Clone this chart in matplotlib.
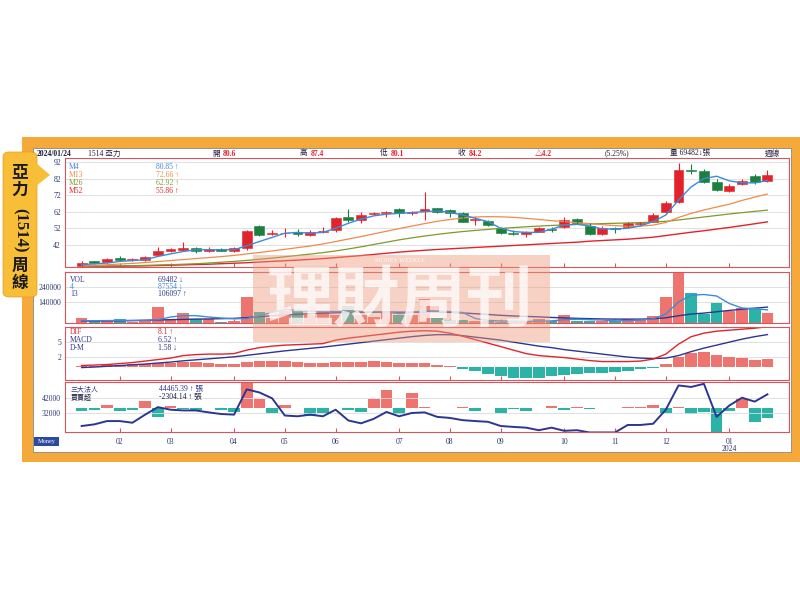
import matplotlib
matplotlib.use("Agg")
import matplotlib.pyplot as plt
import numpy as np
from matplotlib.patches import Rectangle, Polygon, FancyBboxPatch

plt.rcParams["font.family"] = ["Liberation Serif", "Noto Sans CJK TC", "DejaVu Sans"]

# ---- weekly candles (2023/01 .. 2024/01) ----
opens  = [29.4, 32.0, 31.8, 34.0, 32.6, 33.0, 35.6, 38.2, 39.0, 39.8, 38.4, 39.6, 38.2, 40.0, 53.4,
          48.6, 49.0, 50.0, 48.2, 49.6, 51.0, 59.0, 57.0, 60.6, 61.0, 63.4, 61.0, 62.4, 64.0, 63.0,
          61.0, 57.0, 56.4, 52.0, 49.4, 48.6, 50.0, 51.6, 53.0, 57.4, 53.4, 48.6, 52.0, 53.0, 54.8,
          56.0, 62.0, 68.0, 87.4, 86.4, 80.0, 74.6, 78.6, 83.4, 80.6]
highs  = [32.0, 32.5, 34.0, 35.0, 34.0, 35.5, 40.6, 40.0, 44.0, 40.5, 40.5, 40.0, 40.5, 51.0, 54.0,
          51.0, 52.0, 51.5, 51.0, 53.0, 58.5, 63.4, 62.0, 62.0, 62.5, 64.5, 62.5, 74.0, 64.5, 63.5,
          62.0, 59.0, 57.0, 53.0, 51.0, 50.5, 53.0, 53.0, 58.5, 58.0, 55.0, 53.5, 53.0, 56.0, 56.0,
          61.0, 68.4, 91.4, 91.0, 87.5, 81.5, 79.0, 82.0, 85.0, 87.4]
lows   = [28.6, 30.5, 31.0, 32.0, 32.0, 32.5, 35.0, 37.5, 38.5, 37.0, 37.5, 38.0, 37.8, 39.0, 47.5,
          48.0, 47.0, 47.5, 47.5, 49.0, 50.0, 56.0, 55.0, 60.0, 59.0, 59.0, 60.0, 57.0, 61.5, 59.0,
          55.5, 54.0, 53.5, 48.5, 48.0, 46.5, 49.5, 50.0, 52.0, 54.5, 48.0, 48.0, 49.0, 52.5, 54.0,
          55.5, 61.0, 67.0, 85.0, 79.5, 74.5, 74.0, 78.0, 79.0, 80.1]
closes = [31.0, 31.0, 33.4, 32.6, 33.4, 34.6, 38.0, 39.4, 40.0, 38.2, 39.6, 38.4, 40.0, 50.6, 48.0,
          49.4, 49.4, 48.6, 49.6, 50.4, 58.0, 57.0, 60.0, 61.4, 61.6, 61.0, 62.0, 63.4, 62.0, 61.0,
          56.0, 57.5, 54.0, 49.0, 48.6, 50.0, 52.0, 51.2, 57.0, 55.4, 48.6, 52.4, 51.4, 55.0, 55.2,
          60.0, 67.0, 87.0, 86.6, 80.0, 75.0, 77.4, 80.4, 80.0, 84.2]

m4  = [30.0, 30.5, 31.0, 32.0, 32.5, 33.0, 35.0, 36.5, 38.0, 39.0, 39.0, 39.0, 39.0, 41.5, 44.0,
       46.5, 49.0, 49.5, 49.0, 49.5, 52.0, 55.0, 57.5, 59.5, 60.5, 61.0, 61.5, 62.0, 62.5, 61.5,
       60.0, 58.0, 56.0, 52.0, 50.0, 49.5, 49.5, 51.4, 54.0, 54.4, 53.4, 51.6, 51.6, 52.0, 53.4,
       56.0, 60.0, 69.0, 77.0, 82.0, 83.4, 80.6, 79.4, 79.4, 80.85]
m13 = [29.3, 29.6, 30.0, 30.4, 30.8, 31.3, 31.9, 32.5, 33.1, 33.7, 34.3, 34.9, 35.6, 36.5, 37.4,
       38.3, 39.3, 40.3, 41.3, 42.5, 44.0, 45.5, 47.0, 48.6, 50.2, 51.8, 53.3, 54.8, 56.2, 57.3,
       58.2, 58.8, 59.0, 58.9, 58.6, 58.0, 57.3, 56.6, 56.0, 55.4, 54.8, 54.2, 53.6, 53.2, 53.3,
       53.9, 55.5, 58.5, 61.0, 63.0, 64.8, 66.5, 68.8, 70.8, 72.66]
m26 = [29.0, 29.1, 29.2, 29.3, 29.4, 29.6, 29.8, 30.0, 30.3, 30.6, 31.0, 31.5, 32.0, 32.6, 33.3,
       34.0, 34.8, 35.6, 36.4, 37.3, 38.3, 39.5, 40.8, 42.2, 43.6, 45.0, 46.2, 47.3, 48.3, 49.2,
       50.0, 50.7, 51.3, 51.9, 52.4, 52.9, 53.3, 53.7, 54.0, 54.3, 54.6, 54.8, 55.0, 55.2, 55.4,
       55.7, 56.2, 57.0, 57.9, 58.8, 59.7, 60.6, 61.4, 62.2, 62.92]
m52 = [28.8, 28.9, 29.0, 29.1, 29.2, 29.3, 29.5, 29.7, 29.9, 30.1, 30.3, 30.6, 30.9, 31.2, 31.6,
       32.0, 32.4, 32.8, 33.2, 33.7, 34.3, 34.9, 35.5, 36.2, 36.9, 37.6, 38.2, 38.7, 39.2, 39.6,
       40.0, 40.4, 40.8, 41.2, 41.6, 42.0, 42.4, 42.8, 43.2, 43.6, 44.2, 44.6, 45.0, 45.4, 46.0,
       46.6, 47.6, 48.6, 49.6, 50.5, 51.5, 52.5, 53.6, 54.7, 55.86]

# ---- volume ----
vols = [33000, 15000, 13000, 29000, 9000, 15000, 109000, 27000, 64000, 27000, 27000, 9000, 15000,
        176000, 75000, 31000, 82000, 82000, 53000, 87000, 53000, 115000, 53000, 42000, 64000, 55000,
        53000, 160000, 33000, 20000, 22000, 13000, 11000, 9000, 9000, 7000, 27000, 11000, 53000,
        11000, 11000, 15000, 11000, 27000, 22000, 49000, 171000, 333000, 200000, 60000, 131000,
        82000, 100000, 93000, 69482]
vma4 = [15, 15, 16, 17, 17, 18, 22, 40, 49, 49, 40, 33, 28, 30, 50, 70, 90, 85, 80, 78, 76, 75,
        75, 74, 73, 62, 70, 82, 80, 76, 70, 30, 17, 14, 12, 10, 13, 14, 22, 25, 22, 20, 14, 16, 19,
        28, 60, 140, 185, 190, 180, 130, 100, 95, 87.554]
vma13 = [13, 13.5, 14, 15, 16, 18, 20, 22, 24, 26, 27, 29, 31, 36, 42, 48, 54, 58, 62, 65, 68, 70,
         71, 72, 73, 72, 72, 73, 72, 71, 67, 62, 57, 51, 47, 44, 41, 37, 34, 31, 29, 27, 26, 26, 26,
         28, 35, 48, 60, 66, 75, 84, 92, 99, 106.097]

# ---- MACD ----
dif  = [0.3, 0.4, 0.5, 0.7, 0.9, 1.2, 1.5, 1.8, 2.3, 2.5, 2.6, 2.6, 2.7, 3.4, 3.9, 4.2, 4.4, 4.5,
        4.6, 4.7, 5.4, 5.8, 6.1, 6.4, 6.7, 7.0, 7.2, 7.3, 7.2, 6.8, 6.2, 5.5, 4.8, 4.1, 3.4, 2.7,
        2.3, 2.1, 1.9, 1.6, 1.3, 1.1, 1.1, 1.1, 1.2, 1.6, 2.6, 4.6, 6.1, 6.8, 7.2, 7.4, 7.6, 7.8, 8.1]
macd = [-0.1, 0.0, 0.15, 0.3, 0.45, 0.6, 0.8, 1.0, 1.25, 1.45, 1.65, 1.85, 2.05, 2.35, 2.65, 2.95,
        3.25, 3.5, 3.75, 4.0, 4.3, 4.6, 4.9, 5.2, 5.5, 5.8, 6.1, 6.35, 6.5, 6.5, 6.3, 6.0, 5.7, 5.4,
        5.0, 4.6, 4.2, 3.9, 3.5, 3.2, 2.9, 2.6, 2.3, 2.0, 1.8, 1.7, 1.8, 2.3, 3.1, 3.8, 4.4, 5.0,
        5.6, 6.1, 6.52]
osc  = [0.3, 0.3, 0.4, 0.5, 0.6, 0.7, 0.8, 0.9, 1.1, 1.0, 0.9, 0.6, 0.6, 1.1, 1.2, 1.2, 1.2, 1.0,
        0.9, 0.9, 1.1, 1.1, 1.1, 1.2, 1.1, 0.9, 0.8, 0.8, 0.5, 0.25, -0.4, -0.8, -1.3, -1.7, -2.1,
        -2.1, -2.1, -1.8, -1.5, -1.3, -1.1, -1.1, -0.9, -0.7, -0.4, -0.1, 0.6, 2.1, 2.9, 3.1, 2.4,
        2.1, 1.9, 1.5, 1.58]

# ---- institutional investors ----
inst_total = [23300, 24400, 26600, 26600, 25500, 30900, 35900, 34200, 33700, 33700, 32400, 31300,
              30900, 47800, 45700, 41800, 30300, 29800, 30900, 29800, 34200, 27000, 25100, 28100,
              32700, 29800, 32000, 32400, 29400, 28700, 27200, 26600, 26100, 23300, 22700, 22200,
              20500, 22200, 20100, 20500, 19000, 19000, 19000, 24000, 24000, 24800, 34200, 50400,
              49400, 51500, 29400, 37000, 42200, 39600, 44465.39]
inst_net = [-570, -300, 800, -600, -500, 1900, -2200, 650, -200, -300, 100, -300, -800, 6400, 2200,
            -1200, 800, 200, -2000, -1200, 100, -300, -1000, 2200, 4500, -1300, 3700, 400, 50, 200,
            400, -600, 200, -1200, -250, -650, 150, 600, -400, 300, -250, 150, 150, 400, 300, 800,
            -1200, 300, -1500, -800, -5900, -650, 2600, -3400, -2304.14]

month_pos = [3, 7, 12, 16, 20, 25, 29, 33, 38, 42, 46, 51]
month_lab = ["02", "03", "04", "05", "06", "07", "08", "09", "10", "11", "12", "01\n2024"]

RED = "#e3232b"
GREEN = "#1b7f3e"
SALMON = "#ee7470"
TEAL = "#2ab3a6"
NAVY = "#2c3690"
LBLUE = "#3d8bd8"
BORDER = "#d9545c"
TXT = "#2a3570"
ORANGE = "#f5a93a"

W, H = 800, 600
fig = plt.figure(figsize=(8, 6), dpi=100)
fig.patch.set_facecolor("white")


def fx(px):
    return px / W


def fy(py):
    return 1 - py / H


def T(px, py, s, **kw):
    kw.setdefault("fontsize", 5.5)
    kw.setdefault("va", "center")
    return fig.text(fx(px), fy(py), s, **kw)


# frame
fig.patches.append(Rectangle((fx(22), fy(462)), fx(778), 325 / H, transform=fig.transFigure,
                             facecolor=ORANGE, edgecolor="none", zorder=-2))
fig.patches.append(Rectangle((fx(33), fy(452)), fx(758), 304 / H, transform=fig.transFigure,
                             facecolor="white", edgecolor="#888888", lw=0.6, zorder=-1))


def make_ax(top, bottom):
    ax = fig.add_axes([fx(64.5), fy(bottom), fx(789 - 64.5), (bottom - top) / H])
    for s in ax.spines.values():
        s.set_color(BORDER)
        s.set_linewidth(0.8)
    ax.set_xlim(-1.35, 55.7)
    ax.set_xticks(month_pos)
    ax.tick_params(axis="x", direction="in", length=3, color=BORDER, labelbottom=False)
    ax.tick_params(axis="y", length=0, labelsize=5.5, labelcolor=TXT, pad=2.5)
    ax.grid(axis="y", color="#dcdcdc", lw=0.6)
    ax.set_axisbelow(True)
    return ax


x = np.arange(len(closes))
o = np.array(opens)
c = np.array(closes)
cols = np.where(c >= o, RED, GREEN)
bcols = np.where(c >= o, SALMON, TEAL)

# price panel
ax_p = make_ax(158, 266.7)
ax_p.set_ylim(28.8, 94.4)
ax_p.set_yticks([42, 52, 62, 72, 82, 92])
ax_p.plot(x, m52, color=RED, lw=1.0)
ax_p.plot(x, m26, color="#7d9a2a", lw=0.9)
ax_p.plot(x, m13, color="#f08a4b", lw=0.9)
ax_p.vlines(x, lows, highs, color=cols, lw=0.8)
ax_p.bar(x, np.maximum(np.abs(c - o), 0.35), bottom=np.minimum(o, c), width=0.78,
         color=cols, edgecolor=cols, lw=0.4)
ax_p.plot(x, m4, color=LBLUE, lw=1.0)

# volume panel
ax_v = make_ax(272.3, 323)
ax_v.set_ylim(0, 338000)
ax_v.set_yticks([140000, 240000])
ax_v.bar(x, vols, width=0.92, color=bcols)
ax_v.plot(x, np.array(vma13) * 1000, color=NAVY, lw=1.0)
ax_v.plot(x, np.array(vma4) * 1000, color=LBLUE, lw=1.0)

# MACD panel
ax_m = make_ax(326.7, 379.5)
ax_m.set_ylim(-2.5, 8.1)
ax_m.set_yticks([2, 5])
oc = np.array(osc)
ax_m.bar(x, oc, width=0.92, color=np.where(oc >= 0, SALMON, TEAL))
ax_m.plot(x, macd, color=NAVY, lw=1.0)
ax_m.plot(x, dif, color=RED, lw=1.0)

# institutional panel
ax_i = make_ax(382.3, 432.3)
ax_i.set_ylim(19100, 52500)
ax_i.set_yticks([32000, 42000])
ax_b = ax_i.twinx()
ax_b.set_ylim(-5950, 6450)
ax_b.set_yticks([])
for s in ax_b.spines.values():
    s.set_visible(False)
nb = np.array(inst_net)
ax_b.bar(x, nb, width=0.92, color=np.where(nb >= 0, SALMON, TEAL))
ax_i.set_zorder(ax_b.get_zorder() + 1)
ax_i.patch.set_visible(False)
ax_i.plot(x, inst_total, color=NAVY, lw=1.4)
ax_i.set_xticks(month_pos)
ax_i.set_xticklabels(month_lab)
ax_i.tick_params(axis="x", labelbottom=True, labelsize=5.5, labelcolor=TXT, pad=4)
for lab in ax_i.get_xticklabels():
    lab.set_verticalalignment("top")
    lab.set_linespacing(0.9)

# header
T(37, 153.5, "2024/01/24", color="#1c1c3a", fontweight="bold")
T(88, 153.5, "1514 亞力", color="#1c1c3a")
for px, lab, val in [(212, "開", "80.6"), (300, "高", "87.4"), (380, "低", "80.1"), (458, "收", "84.2")]:
    T(px, 153.5, lab, color="#1c1c3a")
    T(px + 11, 153.5, val, color=RED, fontweight="bold")
T(535, 153.5, "△4.2", color=RED, fontweight="bold")
T(605, 153.5, "(5.25%)", color="#1c1c3a")
T(670, 153.5, "量 69482↓張", color="#1c1c3a")
T(765, 153.5, "週線", color="#1c1c3a")

# legends
for py, name, val, col in [(166.7, "M4", "80.85 ↑", LBLUE), (175, "M13", "72.66 ↑", "#f08a4b"),
                           (183.3, "M26", "62.92 ↑", "#7d9a2a"), (191, "M52", "55.86 ↑", RED)]:
    T(69, py, name, color=col)
    T(156, py, val, color=col)
for py, name, val, col in [(280, "VOL", "69482 ↓", NAVY), (287.3, "4", "87554 ↓", LBLUE),
                           (294.3, "13", "106097 ↑", NAVY)]:
    T(70, py, name, color=col)
    T(158, py, val, color=col)
for py, name, val, col in [(331.7, "DIF", "8.1 ↑", RED), (340, "MACD", "6.52 ↑", NAVY),
                           (347.7, "D-M", "1.58 ↓", NAVY)]:
    T(70, py, name, color=col)
    T(158, py, val, color=col)
T(71, 389, "三大法人", color=NAVY, fontsize=5)
T(159, 389, "44465.39 ↑ 張", color=NAVY)
T(71, 396.5, "買賣超", color="#1c1c3a", fontsize=5)
T(159, 396.5, "-2304.14 ↑ 張", color="#1c1c3a")

# Money tag
fig.patches.append(Rectangle((fx(34), fy(446)), fx(25), 9 / H, transform=fig.transFigure,
                             facecolor="#2b4aa0", edgecolor="none", zorder=3))
T(46.5, 441.5, "Money", color="white", fontsize=4.5, ha="center", zorder=4)

# watermark
fig.patches.append(Rectangle((fx(253), fy(342)), fx(297), 87 / H, transform=fig.transFigure,
                             facecolor="#ec9a7c", edgecolor="none", alpha=0.45, zorder=5))
T(400, 301, "理財周刊", color="white", alpha=0.75, fontsize=48, fontweight="bold",
  ha="center", family=["Noto Sans CJK TC"], zorder=6)
T(400, 260, "MONEY WEEKLY", color="white", alpha=0.9, fontsize=4.5, ha="center", zorder=6)

# left tab
fig.patches.append(FancyBboxPatch((fx(3), fy(297)), fx(34), 145 / H, transform=fig.transFigure,
                                  boxstyle="round,pad=0,rounding_size=0.008",
                                  facecolor="#f8be38", edgecolor="#e59a20", lw=0.5, zorder=7))
fig.patches.append(Polygon([(fx(36), fy(163)), (fx(50), fy(175)), (fx(36), fy(186))],
                           closed=True, transform=fig.transFigure, facecolor="#f8be38",
                           edgecolor="none", zorder=7))
for py, ch in [(173, "亞"), (191, "力"), (267, "周"), (284, "線")]:
    T(19.5, py, ch, fontsize=12, ha="center", fontweight="bold", color="#1a1a1a", zorder=8)
T(19.5, 230, "(1514)", fontsize=12, ha="center", rotation=-90, fontweight="bold",
  color="#1a1a1a", zorder=8)

fig.savefig("out.png", dpi=100)
